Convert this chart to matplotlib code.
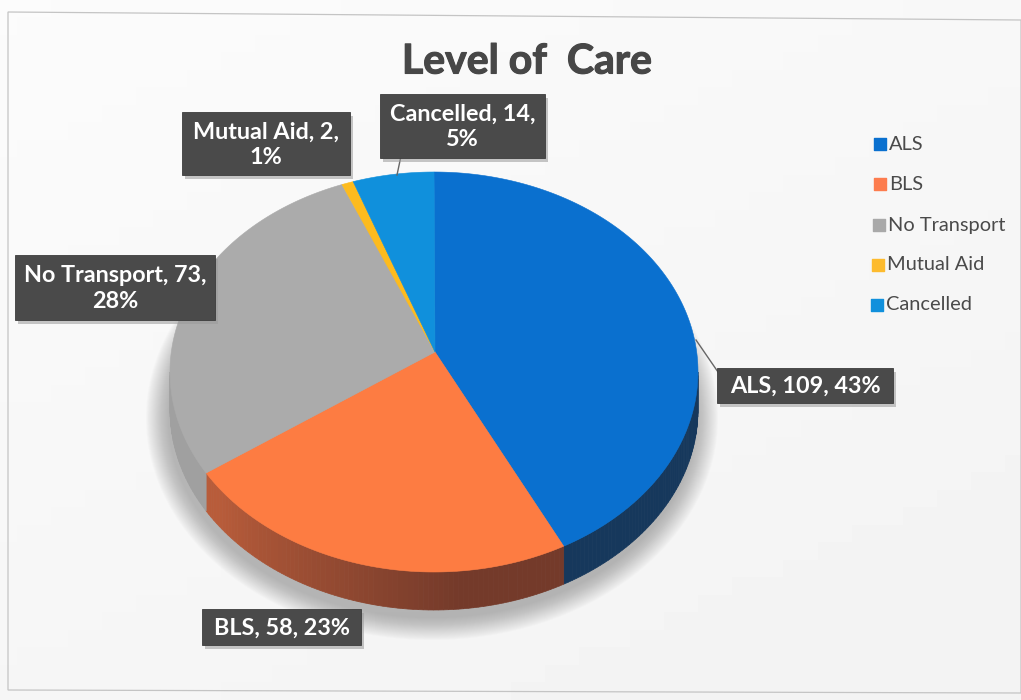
import numpy as np
from matplotlib import pyplot as plt
from matplotlib import patheffects
from matplotlib.patches import Ellipse, Polygon, Rectangle
from matplotlib.colors import to_rgb

categories = ['ALS', 'BLS', 'No Transport', 'Mutual Aid', 'Cancelled']
values = [109, 58, 73, 2, 14]
percents = [43, 23, 28, 1, 5]
top_colors = ['#0a70cf', '#fd7c42', '#ababab', '#fdbb1e', '#1090dc']
side_light = ['#1a4570', '#b85c3a', '#a0a0a0', '#b58a20', '#0f6aa0']
side_dark = ['#16385c', '#743a2a', '#8a8a8a', '#8a6a20', '#0f5a88']
legend_colors = ['#0a70cf', '#fd7c4e', '#a9a9a9', '#fdbb2e', '#1090dc']
label_texts = ['ALS, 109, 43%', 'BLS, 58, 23%', 'No Transport, 73,\n28%',
               'Mutual Aid, 2,\n1%', 'Cancelled, 14,\n5%']

plt.rcParams['font.family'] = ['Lato', 'DejaVu Sans']

# pie geometry in picture pixels
cx, cy = 434, 372
rx, ry = 264, 200
apex = (435, 352)
depth = 38
k = (cy - apex[1]) / ry  # perspective, the apex sits above the ellipse centre


def rim(theta):
    """Point on the top ellipse, theta in degrees clockwise from the back."""
    t = np.radians(theta)
    u, v = np.sin(t), np.cos(t)
    d = 1 + k * v
    return cx + rx * u * np.sqrt(1 - k ** 2) / d, cy - ry * (v + k) / d


fig = plt.figure(figsize=(10.21, 7), dpi=100)
ax = fig.add_axes([0, 0, 1, 1])

# paper
yy, xx = np.mgrid[0:1:40j, 0:1:60j]
ax.imshow(0.985 - 0.035 * (0.4 * xx + 0.6 * yy), extent=(0, 1021, 700, 0), cmap='gray', vmin=0, vmax=1,
          aspect='auto', zorder=0)
ax.set_xlim(0, 1021)
ax.set_ylim(700, 0)
ax.axis('off')
ax.add_patch(Polygon([(8, 12), (1021, 20), (1021, 693), (8, 690)], closed=True, fc='none',
                     ec='#c4c4c4', lw=0.9, zorder=0.5))

# soft shadow below the pie
for grow in np.linspace(44, 0, 24):
    ax.add_patch(Ellipse((cx - 2, cy + depth + 8), 2 * rx + grow, 2 * ry + grow, fc='#707070',
                         ec='none', alpha=0.022, zorder=1))

# wedges from the values
edges = np.concatenate([[0], np.cumsum(values)]) / sum(values) * 360
vis = np.degrees(np.arccos(-k))  # where the rim turns away from the viewer
for i, cat in enumerate(categories):
    a0, a1 = edges[i], edges[i + 1]
    lo, hi = max(a0, vis), min(a1, 360 - vis)
    if hi > lo:
        steps = np.linspace(lo, hi, int(hi - lo) + 2)
        for s0, s1 in zip(steps[:-1], steps[1:]):
            x0, y0 = rim(s0)
            x1, y1 = rim(s1)
            mix = np.clip(((s0 + s1) / 2 - 175) / 55, 0, 1)
            col = (1 - mix) * np.array(to_rgb(side_dark[i])) + mix * np.array(to_rgb(side_light[i]))
            ax.add_patch(Polygon([(x0, y0), (x1, y1), (x1, y1 + depth), (x0, y0 + depth)], closed=True,
                                 fc=col, ec=col, lw=0.5, zorder=2))
    # top face
    arc = np.linspace(a0, a1, max(int(a1 - a0) * 2, 4))
    xs, ys = rim(arc)
    ax.add_patch(Polygon(np.column_stack([np.r_[apex[0], xs], np.r_[apex[1], ys]]), closed=True,
                         fc=top_colors[i], ec=top_colors[i], lw=0.4, zorder=3))

# leader lines
ax.plot([696, 718], [340, 372], color='#666666', lw=1, zorder=4)
ax.plot([401, 397], [156, 175], color='#666666', lw=1, zorder=4)

# data labels
boxes = [(717, 368, 176, 35), (202, 609, 159, 36), (15, 255, 200, 65), (182, 112, 168, 63), (380, 94, 165, 64)]
for text, (x, y, w, h) in zip(label_texts, boxes):
    ax.add_patch(Rectangle((x + 3, y + 4), w, h, fc='#999999', ec='none', alpha=0.55, zorder=5))
    ax.add_patch(Rectangle((x, y), w, h, fc='#4a4a4a', ec='#3c3c3c', lw=0.6, zorder=6))
    ax.text(x + w / 2, y + h / 2 + 1, text, color='white', fontsize=16.8, fontweight='bold', ha='center',
            va='center', linespacing=1.25, zorder=7)

# title
ax.text(527, 62, 'Level of  Care', color='#474747', fontsize=29.5, fontweight='bold', ha='center',
        va='center', zorder=7,
        path_effects=[patheffects.withStroke(linewidth=0.8, foreground='#474747')])

# legend
legend_x = [880, 880, 879, 878, 877]
legend_y = [144, 184, 225, 265, 305]
for name, col, x, y in zip(categories, legend_colors, legend_x, legend_y):
    ax.scatter([x], [y], marker='s', s=70, color=col, zorder=7)
    ax.text(x + 9, y, name, color='#4a4a4a', fontsize=14.4, ha='left', va='center', zorder=7)

fig.savefig('out.png', dpi=100)
